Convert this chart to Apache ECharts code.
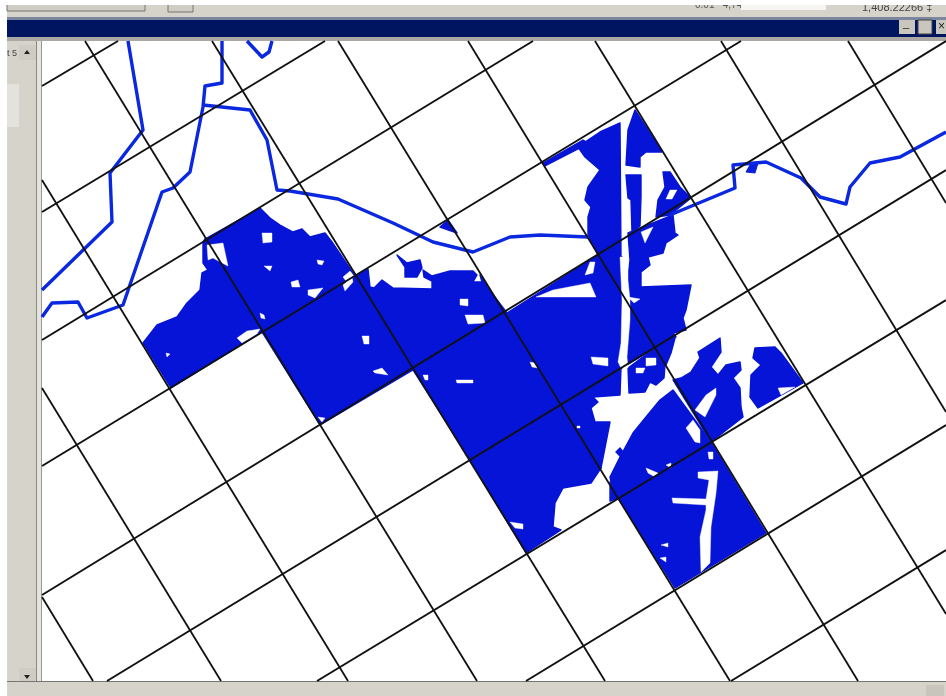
<!DOCTYPE html>
<html><head><meta charset="utf-8">
<style>html,body{margin:0;padding:0;background:#fff}#c{width:946px;height:696px;filter:blur(.5px)}</style>
<script src="https://cdn.jsdelivr.net/npm/echarts@6/dist/echarts.min.js"></script>
</head><body><div id="c"></div>
<script>
const coordinateText = '1,408.22266 ‡';
const scaleText = '0.01   4,741.77';
const panelText = 't 5';

const risingLines = [
  [[42,86],[118,41]], [[42,212],[325,41]], [[42,340],[533,41]], [[42,466],[741,41]],
  [[42,595],[946,41]], [[107,681],[946,170]], [[317,681],[946,300]], [[526,681],[946,425]], [[731,681],[946,550]]
];
const fallingLines = [
  [[42,597],[93,681]], [[42,388],[221,681]], [[42,180],[348,681]], [[85,41],[477,681]],
  [[212,41],[605,681]], [[338,41],[730,681]], [[468,41],[858,681]], [[595,41],[946,614]],
  [[721,41],[946,412]], [[848,41],[946,203]]
];
const rivers = [
  [[128,41],[143,130],[110,173],[112,222],[42,290]],
  [[222,41],[222,83],[205,86],[203,107],[190,172],[173,188],[162,192],[123,305],[87,318],[78,302],[52,303],[42,317]],
  [[203,105],[250,110],[267,140],[277,190],[290,191],[338,199],[393,223],[433,242],[473,252],[510,237],[540,235],[588,237]],
  [[670,215],[735,188],[733,165],[766,162],[801,178],[820,197],[846,204],[850,187],[870,163],[900,157],[946,132]],
  [[247,41],[262,57],[269,52],[272,41]]
];
const riverBlob = [[[750,165],[758,163],[755,173],[746,172]]];

const blueAreas = [
  [[203,242],[203,263],[208,270],[202,273],[200,290],[187,303],[177,317],[157,325],[143,343],[171,388],[262,332],[205,239]],
  [[205,239],[260,208],[270,218],[280,225],[293,232],[302,229],[310,237],[325,233],[332,242],[355,276],[262,332]],
  [[355,276],[368,269],[370,287],[374,288],[382,280],[393,288],[432,289],[432,281],[424,277],[423,270],[432,276],[450,271],[473,271],[477,275],[473,282],[482,282],[480,275],[488,288],[507,313],[413,370]],
  [[397,255],[407,263],[420,260],[422,268],[417,277],[405,277],[405,267]],
  [[440,227],[448,220],[457,233]],
  [[262,332],[355,276],[413,370],[320,425]],
  [[413,370],[507,313],[561,405],[470,460]],
  [[507,313],[598,255],[655,348],[561,405]],
  [[598,255],[622,257],[630,300],[620,300]],
  [[543,163],[583,140],[588,143],[580,148],[545,166]],
  [[588,140],[600,132],[620,123],[621,257],[598,255],[588,235],[588,217],[591,207],[585,200],[588,187],[600,170],[585,157],[578,147]],
  [[628,130],[635,110],[662,152],[646,152],[640,157],[640,167],[626,165]],
  [[626,175],[641,175],[641,197],[640,226],[632,232],[631,200],[628,198]],
  [[663,172],[670,172],[680,187],[691,198],[670,215],[656,217],[658,200],[665,187]],
  [[628,233],[673,215],[675,233],[678,235],[666,243],[663,253],[648,257],[650,265],[641,272],[641,287],[691,285],[686,310],[683,318],[686,330],[673,333],[676,337],[655,348],[631,310],[630,303],[628,297],[628,277],[630,260]],
  [[655,348],[675,338],[671,353],[666,365]],
  [[681,378],[691,372],[700,358],[698,352],[720,338],[721,352],[711,367],[718,375],[726,365],[740,362],[741,370],[733,378],[740,388],[741,407],[743,417],[711,442],[673,380]],
  [[755,348],[775,347],[781,353],[803,383],[758,408],[750,397],[751,375],[761,365],[753,358]],
  [[561,405],[621,368],[620,395],[593,397],[598,402],[591,408],[595,422],[610,422],[601,468]],
  [[628,368],[655,348],[665,365],[664,378],[656,385],[650,382],[645,392],[629,393]],
  [[673,390],[660,400],[646,417],[633,433],[620,457],[610,477],[611,482],[618,498],[711,442]],
  [[618,498],[711,442],[766,533],[675,588]],
  [[470,460],[561,405],[601,468],[591,483],[563,488],[555,503],[553,527],[561,530],[526,553]],
  [[610,482],[618,498],[610,501]],
  [[616,452],[620,448],[623,452],[620,456]]
];
const whiteGaps = [
  [[207,245],[223,243],[228,266],[222,263],[213,258],[208,260]],
  [[262,233],[272,233],[272,242],[263,243]],
  [[264,266],[272,266],[270,271]],
  [[317,260],[324,261],[322,265],[318,264]],
  [[291,282],[298,280],[300,287],[292,287]],
  [[308,290],[323,288],[315,298],[308,295]],
  [[343,285],[352,277],[353,282],[345,291]],
  [[343,277],[350,271],[354,276],[346,281]],
  [[260,313],[264,315],[265,319],[261,318]],
  [[237,338],[247,331],[260,329],[257,334],[242,343]],
  [[166,353],[170,354],[167,357]],
  [[460,299],[468,299],[468,306],[460,305]],
  [[465,315],[483,315],[485,323],[468,324]],
  [[362,336],[369,336],[369,344],[364,344]],
  [[373,371],[382,368],[388,375],[375,373]],
  [[318,417],[325,418],[322,422]],
  [[423,375],[428,375],[428,380],[425,380]],
  [[456,380],[473,380],[473,383],[457,383]],
  [[530,362],[535,363],[538,368],[532,367]],
  [[591,357],[608,358],[608,366],[593,364]],
  [[536,297],[553,290],[590,283],[596,297]],
  [[585,275],[590,262],[595,262],[593,273]],
  [[620,257],[622,300],[621,343],[618,362],[621,368],[628,368],[627,357],[630,320],[630,300],[628,280],[628,257]],
  [[628,297],[640,299],[634,303]],
  [[641,232],[653,227],[645,243]],
  [[670,190],[677,190],[672,199],[666,199]],
  [[695,410],[706,395],[716,388],[716,395],[705,417]],
  [[686,428],[693,420],[700,430],[700,443],[695,442]],
  [[778,388],[795,387],[781,395]],
  [[636,368],[645,368],[643,373],[636,373]],
  [[646,358],[656,358],[656,365],[646,366]],
  [[577,426],[580,426],[580,428],[577,428]],
  [[646,468],[658,473],[655,477],[648,473]],
  [[666,465],[671,463],[671,468]],
  [[708,452],[713,452],[713,459],[709,459]],
  [[698,472],[718,471],[716,493],[711,527],[710,563],[701,572],[700,537],[706,510],[706,505],[673,503],[672,498],[706,499],[709,480],[698,478]],
  [[661,545],[668,543],[668,547]],
  [[660,558],[666,557],[666,562]],
  [[510,522],[523,524],[523,529],[515,528]]
];

function polygons(list, color, z, strokeWidth) {
  return {
    type: 'custom', coordinateSystem: 'cartesian2d', clip: true, silent: true, z,
    animation: false,
    data: list.map((poly) => ({ value: poly[0] })),
    renderItem: (params, api) => ({
      type: 'polygon',
      shape: { points: list[params.dataIndex].map((p) => api.coord(p)) },
      style: { fill: color, stroke: color, lineWidth: strokeWidth, lineJoin: 'round' }
    })
  };
}
function polyline(points, color, width, z) {
  return { type: 'line', data: points, symbol: 'none', silent: true, animation: false, clip: true, z,
    lineStyle: { color, width, join: 'round' } };
}

const chrome = '#d6d3ca', navy = '#00155f';
const rect = (x, y, width, height, fill, stroke) => ({ type: 'rect', shape: { x, y, width, height }, silent: true,
  style: { fill, stroke: stroke || null, lineWidth: 1 } });
const label = (text, x, y, size, fill) => ({ type: 'text', x, y, silent: true,
  style: { text, fill, font: size + 'px "Liberation Sans"', textVerticalAlign: 'middle' } });
const tri = (pts, fill) => ({ type: 'polygon', shape: { points: pts }, silent: true, style: { fill } });

const chart = echarts.init(document.getElementById('c'), null, { renderer: 'canvas' });
chart.setOption({
  animation: false,
  backgroundColor: '#fff',
  grid: { left: 42, right: 0, top: 41, bottom: 15 },
  xAxis: { type: 'value', min: 42, max: 946, show: false },
  yAxis: { type: 'value', min: 41, max: 681, inverse: true, show: false },
  tooltip: { show: false },
  series: [
    polygons(blueAreas, '#0514d6', 2, 1.4),
    polygons(whiteGaps, '#ffffff', 3, 0.4),
    ...rivers.map((r) => polyline(r, '#0a28e0', 3.4, 4)),
    polygons(riverBlob, '#0a1fd8', 4, 1),
    ...risingLines.map((l) => polyline(l, '#111', 2, 5)),
    ...fallingLines.map((l) => polyline(l, '#111', 1.8, 5))
  ],
  graphic: { elements: [
    rect(7, 5, 939, 13, chrome),
    label(scaleText, 695, 5, 10, '#555'),
    rect(741, 0, 85, 10, '#f6f5f2'),
    label(coordinateText, 862, 8, 11, '#444'),
    rect(7, 3, 138, 8, '#d0cdc4', '#77756f'),
    rect(168, 3, 25, 9, '#d0cdc4', '#77756f'),
    rect(0, 0, 946, 5, '#ffffff'),
    rect(7, 17, 939, 3, '#7d869e'),
    rect(7, 20, 939, 17, navy),
    rect(7, 37, 939, 4, '#a9a8a3'),
    rect(899, 20, 16, 14, '#c9c6bd'),
    rect(918, 20, 14, 14, '#c9c6bd', '#444'),
    rect(936, 20, 10, 14, '#c9c6bd'),
    label('_', 903, 24, 11, '#222'),
    label('×', 938, 27, 12, '#222'),
    rect(7, 41, 29, 640, chrome),
    rect(7, 84, 12, 43, '#e4e2dc'),
    rect(19, 45, 17, 15, '#cfccc3'),
    tri([[24, 54], [27, 50], [30, 54]], '#222'),
    label(panelText, 7, 54, 9, '#444'),
    rect(36, 41, 6, 640, '#e6e4de'),
    rect(36, 41, 1, 640, '#8a8880'),
    rect(41, 41, 1, 640, '#9a9890'),
    rect(19, 668, 17, 13, '#cfccc3'),
    tri([[24, 675], [30, 675], [27, 679]], '#222'),
    rect(7, 681, 939, 15, chrome),
    rect(7, 681, 939, 1, '#77756f'),
    rect(926, 685, 18, 11, '#c8c5bc')
  ] }
});
</script></body></html>
